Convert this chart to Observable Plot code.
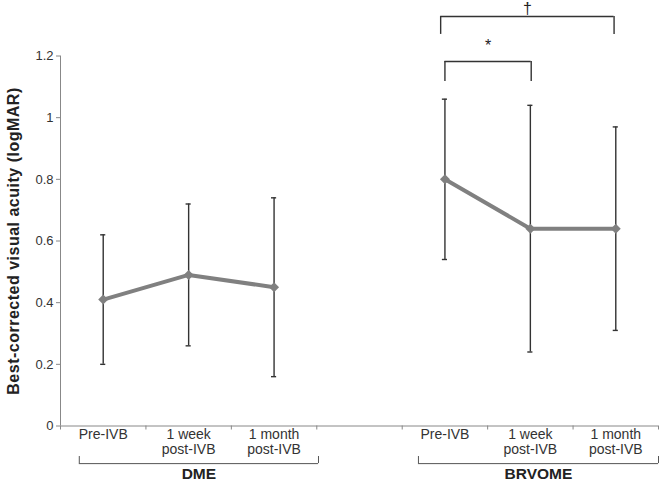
<!DOCTYPE html>
<html>
<head>
<meta charset="utf-8">
<script src="https://cdn.jsdelivr.net/npm/d3@7"></script>
<script src="https://cdn.jsdelivr.net/npm/@observablehq/plot@0.6"></script>
<style>
html, body { margin: 0; padding: 0; background: #fff; }
#chart svg { display: block; overflow: visible; }
</style>
</head>
<body>
<div id="chart"></div>
<script>
// ---- data ----
const timepoints = ["Pre-IVB", "1 week\npost-IVB", "1 month\npost-IVB"];
const groups = ["DME", "BRVOME"];
const dmeMean = [0.41, 0.49, 0.45];
const dmeLow = [0.20, 0.26, 0.16];
const dmeHigh = [0.62, 0.72, 0.74];
const brvomeMean = [0.80, 0.64, 0.64];
const brvomeLow = [0.54, 0.24, 0.31];
const brvomeHigh = [1.06, 1.04, 0.97];
const yTicks = [0, 0.2, 0.4, 0.6, 0.8, 1, 1.2];
const yTitle = "Best-corrected visual acuity (logMAR)";
const slotStart = {DME: 0, BRVOME: 4}; // slot 3 is the gap between groups
const boundaries = [-0.5, 0.5, 1.5, 2.5, 3.5, 4.5, 5.5, 6.5];
// significance brackets (BRVOME)
const sigBrackets = [
  {x1: 3.95, x2: 5.98, top: 1.328, leg: 1.270, ty: 1.354, label: "\u2020"},
  {x1: 4.0, x2: 5.01, top: 1.182, leg: 1.117, ty: 1.232, label: "*"}
];
// group brackets under the axis
const groupBrackets = [
  {name: "DME", x1: -0.28, x2: 2.52},
  {name: "BRVOME", x1: 3.69, x2: 6.5}
];
const bracketY = -0.122, bracketLeg = -0.099, groupLabelY = -0.157;

// ---- table ----
const rows = [];
const series = {DME: [dmeMean, dmeLow, dmeHigh], BRVOME: [brvomeMean, brvomeLow, brvomeHigh]};
for (const g of groups) {
  const [m, lo, hi] = series[g];
  timepoints.forEach((t, i) => rows.push({group: g, label: t, x: slotStart[g] + i, mean: m[i], lo: lo[i], hi: hi[i]}));
}
const capHalf = 0.03;
const font = "Liberation Sans, Arial, Helvetica, sans-serif";

const chart = Plot.plot({
  width: 659,
  height: 481,
  marginLeft: 60,
  marginRight: 1,
  marginTop: 55.5,
  marginBottom: 55.5,
  style: {fontFamily: font, fontSize: "13px", color: "#333", background: "#fff", overflow: "visible"},
  x: {domain: [-0.5, 6.5], axis: null},
  y: {domain: [0, 1.2], axis: null},
  marks: [
    // y axis
    Plot.ruleX([-0.5], {stroke: "#888", strokeWidth: 1}),
    Plot.axisY({ticks: yTicks, tickFormat: d => String(d), tickSize: 4, tickPadding: 3, stroke: "#888", fill: "#333", fontSize: 13, label: null}),
    Plot.text([yTitle], {frameAnchor: "left", textAnchor: "middle", dx: -47, rotate: -90, fontWeight: "bold", fontSize: 16, fill: "#222"}),
    // x axis
    Plot.ruleY([0], {stroke: "#888", strokeWidth: 1}),
    Plot.axisX({ticks: boundaries, tickFormat: () => "", tickSize: 4, stroke: "#888", label: null}),
    Plot.text(rows, {x: "x", y: 0, text: "label", lineAnchor: "top", dy: 2, fontSize: 14, lineHeight: 1.1, fill: "#333"}),
    // group brackets
    Plot.ruleY(groupBrackets, {y: bracketY, x1: "x1", x2: "x2", stroke: "#555", strokeWidth: 1}),
    Plot.ruleX(groupBrackets, {x: "x1", y1: bracketY, y2: bracketLeg, stroke: "#555", strokeWidth: 1}),
    Plot.ruleX(groupBrackets, {x: "x2", y1: bracketY, y2: bracketLeg, stroke: "#555", strokeWidth: 1}),
    Plot.text(groupBrackets, {x: d => (d.x1 + d.x2) / 2, y: groupLabelY, text: "name", fontWeight: "bold", fontSize: 15.5, fill: "#222"}),
    // error bars
    Plot.ruleX(rows, {x: "x", y1: "lo", y2: "hi", stroke: "#333", strokeWidth: 1.4}),
    Plot.ruleY(rows, {y: "hi", x1: d => d.x - capHalf, x2: d => d.x + capHalf, stroke: "#333", strokeWidth: 1.4}),
    Plot.ruleY(rows, {y: "lo", x1: d => d.x - capHalf, x2: d => d.x + capHalf, stroke: "#333", strokeWidth: 1.4}),
    // means
    Plot.line(rows, {x: "x", y: "mean", z: "group", stroke: "#808080", strokeWidth: 4}),
    Plot.dot(rows, {x: "x", y: "mean", symbol: "diamond2", r: 4.5, fill: "#808080", stroke: "none"}),
    // significance brackets
    Plot.ruleY(sigBrackets, {y: "top", x1: "x1", x2: "x2", stroke: "#333", strokeWidth: 1.4}),
    Plot.ruleX(sigBrackets, {x: "x1", y1: "leg", y2: "top", stroke: "#333", strokeWidth: 1.4}),
    Plot.ruleX(sigBrackets, {x: "x2", y1: "leg", y2: "top", stroke: "#333", strokeWidth: 1.4}),
    Plot.text(sigBrackets, {x: d => (d.x1 + d.x2) / 2, y: "ty", text: "label", fontSize: 16, fill: "#222"})
  ]
});
// slightly wider tracking on the y title, as in the reference typeface
d3.select(chart).selectAll("text").filter(function() { return this.textContent === yTitle; }).style("letter-spacing", "0.5px");
document.getElementById("chart").appendChild(chart);
</script>
</body>
</html>
